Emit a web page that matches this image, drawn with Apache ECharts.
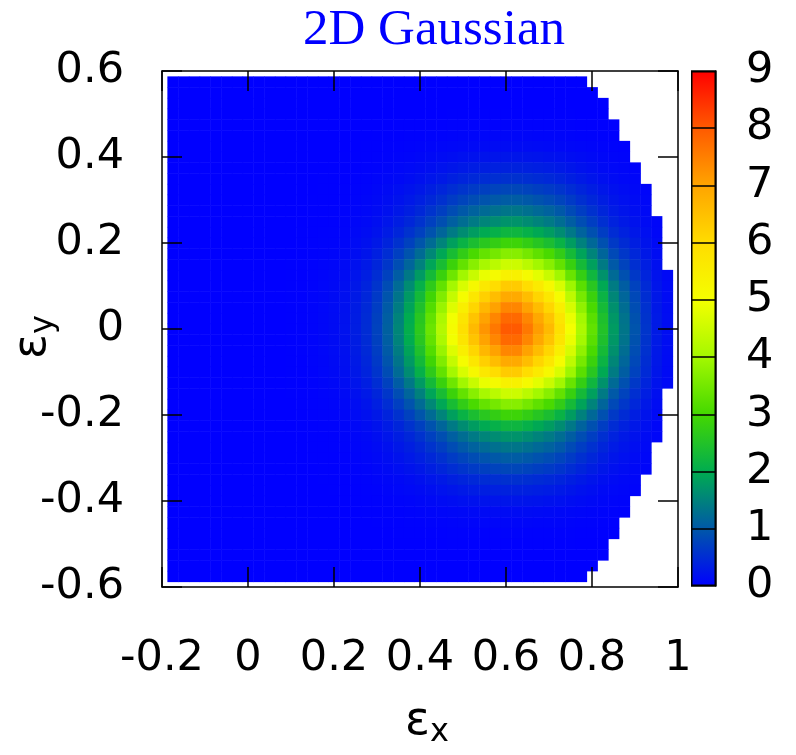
<!DOCTYPE html>
<html>
<head>
<meta charset="utf-8">
<title>2D Gaussian</title>
<script src="https://cdn.jsdelivr.net/npm/echarts@6/dist/echarts.min.js"></script>
<style>
  html, body {margin: 0; padding: 0; background: #fff;}
  #chart {width: 796px; height: 755px;}
</style>
</head>
<body>
<div id="chart"></div>
<script>
// cell centres, step 0.025
var xCenters = [-0.175, -0.15, -0.125, -0.1, -0.075, -0.05, -0.025, 0, 0.025, 0.05, 0.075, 0.1,
  0.125, 0.15, 0.175, 0.2, 0.225, 0.25, 0.275, 0.3, 0.325, 0.35, 0.375, 0.4,
  0.425, 0.45, 0.475, 0.5, 0.525, 0.55, 0.575, 0.6, 0.625, 0.65, 0.675, 0.7,
  0.725, 0.75, 0.775, 0.8, 0.825, 0.85, 0.875, 0.9, 0.925, 0.95, 0.975];
var yCenters = [0.575, 0.55, 0.525, 0.5, 0.475, 0.45, 0.425, 0.4, 0.375, 0.35, 0.325, 0.3,
  0.275, 0.25, 0.225, 0.2, 0.175, 0.15, 0.125, 0.1, 0.075, 0.05, 0.025, 0,
  -0.025, -0.05, -0.075, -0.1, -0.125, -0.15, -0.175, -0.2, -0.225, -0.25, -0.275, -0.3,
  -0.325, -0.35, -0.375, -0.4, -0.425, -0.45, -0.475, -0.5, -0.525, -0.55, -0.575];

// values read along the row y = 0 (one per x centre)
var xProfile = [0, 0, 0, 0, 0, 0, 0, 0, 0, 0, 0, 0.01,
  0.02, 0.05, 0.08, 0.13, 0.2, 0.33, 0.5, 0.75, 1.1, 1.55, 2.05, 2.65,
  3.4, 4.2, 5.1, 5.9, 6.6, 7.2, 7.6, 8.0, 8.0, 7.6, 7.1, 6.6,
  5.9, 5.0, 4.1, 3.3, 2.5, 1.8, 1.35, 0.95, 0.6, 0.3, 0.15];
// values read along the column x = 0.6 (one per y centre)
var yProfile = [0, 0, 0, 0.01, 0.03, 0.07, 0.13, 0.24, 0.38, 0.55, 0.8, 1.05,
  1.35, 1.7, 2.2, 2.9, 3.7, 4.5, 5.4, 6.3, 6.9, 7.4, 7.8, 8.0,
  7.8, 7.4, 6.9, 6.3, 5.4, 4.5, 3.7, 2.9, 2.2, 1.7, 1.35, 1.05,
  0.8, 0.55, 0.38, 0.24, 0.13, 0.07, 0.03, 0.01, 0, 0, 0];
var peakValue = 8.0;
// last x centre drawn in each row (edge of the disc)
var rowMaxX = [0.775, 0.8, 0.825, 0.825, 0.85, 0.85, 0.875, 0.875, 0.9, 0.9, 0.925, 0.925,
  0.925, 0.95, 0.95, 0.95, 0.95, 0.95, 0.975, 0.975, 0.975, 0.975, 0.975, 0.975,
  0.975, 0.975, 0.975, 0.975, 0.975, 0.95, 0.95, 0.95, 0.95, 0.95, 0.925, 0.925,
  0.925, 0.9, 0.9, 0.875, 0.875, 0.85, 0.85, 0.825, 0.825, 0.8, 0.775];

var cbColors = ['#0000ff', '#0058a8', '#00ac50', '#44d800', '#a4f800',
  '#f4ff00', '#ffdc00', '#ffa400', '#ff5a00', '#ff0000'];

var cells = [];
for (var j = 0; j < yCenters.length; j++) {
  for (var i = 0; i < xCenters.length; i++) {
    if (xCenters[i] > rowMaxX[j] + 1e-9) continue;
    cells.push([xCenters[i], yCenters[j], +(xProfile[i] * yProfile[j] / peakValue).toFixed(3)]);
  }
}

var half = 0.0125;
var tickFont = {fontSize: 43, fontFamily: 'DejaVu Sans', color: '#000'};
var frameLine = {show: true, onZero: false, lineStyle: {color: '#000', width: 1.5}};
var tickLine = {show: true, inside: true, length: 20, lineStyle: {color: '#000', width: 1.5}};
// epsilon + subscript for the axis names
function nameRich(padE, padS) {
  return {
    e: {fontSize: 46, fontFamily: 'DejaVu Sans', color: '#000', padding: padE},
    s: {fontSize: 32, fontFamily: 'DejaVu Sans', color: '#000', padding: padS}
  };
}

var stops = cbColors.map(function (c, k) { return {offset: k / (cbColors.length - 1), color: c}; });

var chart = echarts.init(document.getElementById('chart'));
chart.setOption({
  animation: false,
  title: {
    text: '2D Gaussian',
    left: 429,
    textAlign: 'center',
    top: 0,
    textStyle: {color: '#0000ff', fontFamily: 'Liberation Serif', fontWeight: 'normal', fontSize: 51}
  },
  grid: [
    {left: 162, top: 71, width: 516, height: 516, containLabel: false, outerBoundsMode: 'none'},
    {left: 691, top: 71, width: 25, height: 515, containLabel: false, outerBoundsMode: 'none'}
  ],
  visualMap: {
    show: false,
    type: 'continuous',
    seriesIndex: 0,
    dimension: 2,
    min: 0,
    max: 9,
    inRange: {color: cbColors}
  },
  xAxis: [
    {
      type: 'value', gridIndex: 0, min: -0.2, max: 1, interval: 0.2, z: 5,
      axisLine: frameLine, axisTick: tickLine, splitLine: {show: false},
      axisLabel: Object.assign({margin: 50}, tickFont),
      name: '{e|ε}{s|x}',
      nameLocation: 'middle',
      nameGap: 108,
      nameMoveOverlap: false,
      nameTextStyle: {rich: nameRich([0, 0, 0, 14], [22, 0, 0, 0])}
    },
    {
      type: 'value', gridIndex: 0, position: 'top', min: -0.2, max: 1, interval: 0.2, z: 5,
      axisLine: frameLine, axisTick: tickLine, splitLine: {show: false}, axisLabel: {show: false}
    },
    {type: 'category', gridIndex: 1, data: ['cb'], show: false}
  ],
  yAxis: [
    {
      type: 'value', gridIndex: 0, min: -0.6, max: 0.6, interval: 0.2, z: 5,
      axisLine: frameLine, axisTick: tickLine, splitLine: {show: false},
      axisLabel: Object.assign({margin: 38}, tickFont),
      name: '{e|ε}{s|y}',
      nameLocation: 'middle',
      nameRotate: 90,
      nameGap: 102,
      nameMoveOverlap: false,
      nameTextStyle: {rich: nameRich([0, 0, 0, 0], [22, 16, 0, 0])}
    },
    {
      type: 'value', gridIndex: 0, position: 'right', min: -0.6, max: 0.6, interval: 0.2, z: 5,
      axisLine: frameLine, axisTick: tickLine, splitLine: {show: false}, axisLabel: {show: false}
    },
    {
      type: 'value', gridIndex: 1, position: 'right', min: 0, max: 9, interval: 1, z: 5,
      axisLine: frameLine,
      axisTick: {show: true, inside: true, length: 25, lineStyle: {color: '#000', width: 1.5}},
      splitLine: {show: false},
      axisLabel: Object.assign({margin: 30}, tickFont)
    }
  ],
  series: [
    {
      type: 'custom',
      xAxisIndex: 0,
      yAxisIndex: 0,
      encode: {x: 0, y: 1},
      data: cells,
      renderItem: function (params, api) {
        var p0 = api.coord([api.value(0) - half, api.value(1) + half]);
        var p1 = api.coord([api.value(0) + half, api.value(1) - half]);
        return {
          type: 'rect',
          shape: {x: p0[0], y: p0[1], width: p1[0] - p0[0] + 0.5, height: p1[1] - p0[1] + 0.5},
          style: {fill: api.visual('color')}
        };
      }
    },
    {
      type: 'bar',
      xAxisIndex: 2,
      yAxisIndex: 2,
      data: [9],
      barWidth: '100%',
      silent: true,
      itemStyle: {
        color: {type: 'linear', x: 0, y: 1, x2: 0, y2: 0, colorStops: stops},
        borderColor: '#000',
        borderWidth: 1.5
      }
    }
  ]
});
</script>
</body>
</html>
